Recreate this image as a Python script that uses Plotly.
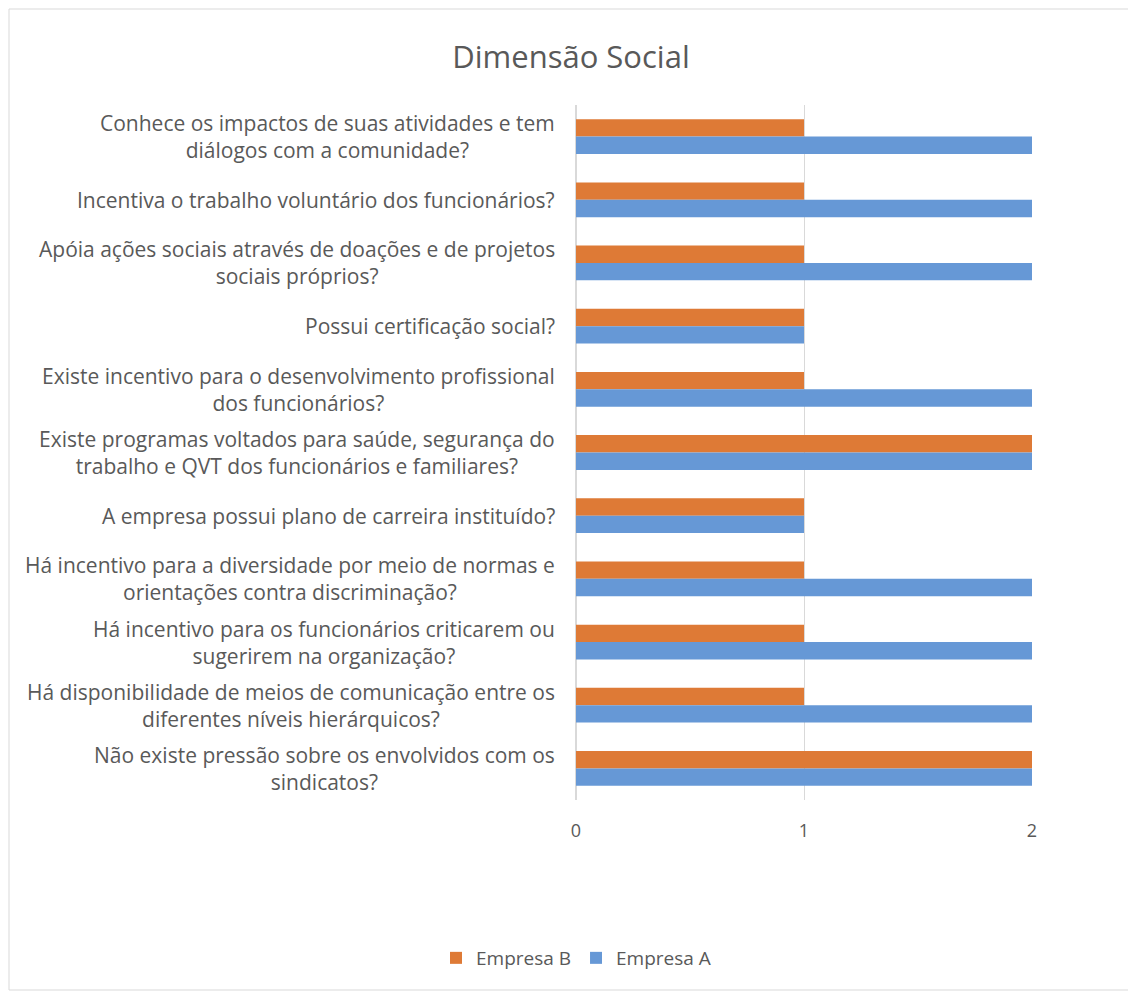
import plotly.graph_objects as go

categories = [
    "Conhece os impactos de suas atividades e tem<br>diálogos com a comunidade?",
    "Incentiva o trabalho voluntário dos funcionários?",
    "Apóia ações sociais através de doações e de projetos<br>sociais próprios?",
    "Possui certificação social?",
    "Existe incentivo para o desenvolvimento profissional<br>dos funcionários?",
    "Existe programas voltados para saúde, segurança do<br>trabalho e QVT dos funcionários e familiares?",
    "A empresa possui plano de carreira instituído?",
    "Há incentivo para a diversidade por meio de normas e<br>orientações contra discriminação?",
    "Há incentivo para os funcionários criticarem ou<br>sugerirem na organização?",
    "Há disponibilidade de meios de comunicação entre os<br>diferentes níveis hierárquicos?",
    "Não existe pressão sobre os envolvidos com os<br>sindicatos?",
]
empresa_b = [1, 1, 1, 1, 1, 2, 1, 1, 1, 1, 2]
empresa_a = [2, 2, 2, 1, 2, 2, 1, 2, 2, 2, 2]
x_ticks = [0, 1, 2]

W, H = 1136, 993
OFF = 8  # page body margin offset
L, T = 576 - OFF, 105 - OFF
pw, ph = 456, 695
R, B = W - L - pw, H - T - ph

FONT = "Open Sans"
GRAY = "#595959"

fig = go.Figure()
fig.add_trace(go.Bar(y=categories, x=empresa_b, orientation="h", name="Empresa B",
                     marker=dict(color="#DE7A36", line=dict(width=0))))
fig.add_trace(go.Bar(y=categories, x=empresa_a, orientation="h", name="Empresa A",
                     marker=dict(color="#6698D6", line=dict(width=0))))

for c in categories:
    fig.add_annotation(x=(557 - 576) / pw, xref="paper", y=c, yref="y", text=c,
                       showarrow=False, xanchor="right", yanchor="middle", align="center",
                       font=dict(family=FONT, size=21, color=GRAY))

def px_x(p):
    return (p - OFF - L) / pw

def px_y(p):
    return (T + ph - (p - OFF)) / ph

# outer frame
fig.add_shape(type="rect", xref="paper", yref="paper",
              x0=px_x(9), x1=px_x(1133), y0=px_y(990), y1=px_y(9),
              line=dict(color="#D9D9D9", width=1), fillcolor="rgba(0,0,0,0)", layer="below")

fig.update_layout(
    width=W, height=H,
    margin=dict(l=L, r=R, t=T, b=B, autoexpand=False),
    paper_bgcolor="white", plot_bgcolor="white",
    barmode="group", bargap=0.45, bargroupgap=0,
    title=dict(text="Dimensão Social", x=(571 - OFF) / W, xref="container", xanchor="center",
               y=1 - (57 - OFF) / H, yref="container", yanchor="middle",
               font=dict(family=FONT, size=31, color=GRAY)),
    legend=dict(orientation="h", x=px_x(576), xanchor="center", y=px_y(958), yanchor="middle",
                font=dict(family=FONT, size=19, color=GRAY), traceorder="normal",
                itemwidth=30),
    xaxis=dict(range=[0, 2], tickvals=x_ticks, showgrid=True, gridcolor="#D9D9D9", gridwidth=1,
               zeroline=True, zerolinecolor="#D9D9D9", showline=False,
               tickfont=dict(family=FONT, size=18, color=GRAY), ticklabelstandoff=18),
    yaxis=dict(autorange="reversed", showticklabels=False, showgrid=False, showline=False,
               zeroline=False, ticks=""),
    showlegend=True,
)

fig.write_html("out.html")
